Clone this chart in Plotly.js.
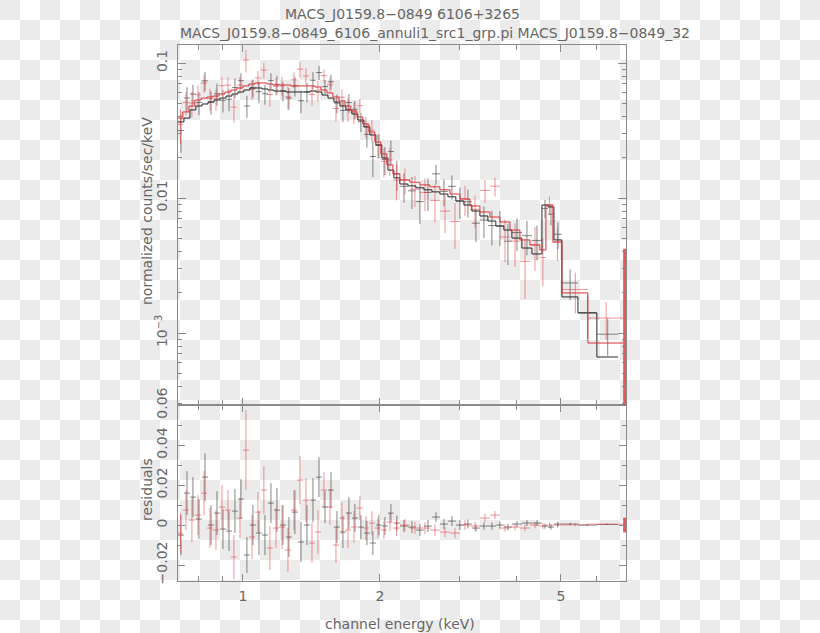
<!DOCTYPE html>
<html><head><meta charset="utf-8">
<script src="https://cdn.plot.ly/plotly-3.0.1.min.js"></script>
<style>
html,body{margin:0;padding:0;}
body{width:820px;height:633px;overflow:hidden;background:repeating-conic-gradient(#ffffff 0 25%, #ebebeb 0 50%) 0 0/40px 40px;}
#chart{width:820px;height:633px;}
</style></head><body><div id="chart"></div>
<script>
// ---- data group 1 (black) ----
const edgesBlack = [0.720,0.742,0.765,0.788,0.813,0.838,0.864,0.890,0.918,0.946,0.975,1.005,1.036,1.068,1.101,1.135,1.170,1.206,1.243,1.281,1.321,1.362,1.404,1.447,1.492,1.538,1.585,1.634,1.684,1.736,1.789,1.845,1.901,1.960,2.020,2.083,2.147,2.213,2.305,2.400,2.499,2.603,2.710,2.822,2.938,3.060,3.186,3.318,3.455,3.597,3.746,3.901,4.103,4.317,4.542,4.682,4.826,5.025,5.450,5.998,6.673];
const rateBlack = [0.0316,0.0551,0.0589,0.0510,0.0737,0.0514,0.0592,0.0530,0.0539,0.0659,0.0740,0.0481,0.0653,0.0613,0.0592,0.0741,0.0695,0.0620,0.0550,0.0675,0.0525,0.0610,0.0745,0.0850,0.0669,0.0725,0.0504,0.0445,0.0509,0.0454,0.0368,0.0296,0.0203,0.0247,0.0193,0.0221,0.0151,0.0122,0.0113,0.0094,0.0110,0.0151,0.0112,0.0122,0.0095,0.00937,0.00651,0.00686,0.00625,0.00620,0.00479,0.00555,0.00526,0.00485,0.00837,0.00758,0.00539,0.00235,0.00141,0.00098];
const errBlack = [0.010,0.011,0.010,0.010,0.012,0.010,0.011,0.010,0.010,0.011,0.010,0.009,0.010,0.011,0.010,0.010,0.011,0.010,0.010,0.011,0.010,0.010,0.011,0.010,0.008,0.009,0.008,0.008,0.008,0.007,0.006,0.006,0.006,0.005,0.0045,0.0045,0.0038,0.003,0.003,0.003,0.003,0.0025,0.0025,0.0025,0.0025,0.0022,0.0018,0.0018,0.0018,0.0018,0.0016,0.0015,0.0015,0.0014,0.0013,0.0013,0.0012,0.0006,0.0005,0.0003];
const modelBlack = [0.0366,0.0391,0.0449,0.0480,0.0497,0.0514,0.0532,0.0550,0.0569,0.0589,0.0610,0.0631,0.0653,0.0653,0.0642,0.0631,0.0620,0.0620,0.0610,0.0610,0.0610,0.0610,0.0620,0.0610,0.0579,0.0550,0.0514,0.0480,0.0449,0.0419,0.0378,0.0336,0.0293,0.0247,0.0198,0.0161,0.0141,0.0127,0.0123,0.0119,0.0115,0.0111,0.0107,0.0102,0.0095,0.00887,0.00801,0.00736,0.00675,0.00620,0.00579,0.00505,0.00426,0.00385,0.00887,0.00858,0.00489,0.00185,0.00141,0.000664];
const residBlack = [-0.005,0.016,0.014,0.003,0.024,0.0,0.006,-0.002,-0.003,0.007,0.013,-0.015,0.0,-0.004,-0.005,0.011,0.0075,0.0,-0.006,0.0065,-0.0085,0.0,0.0125,0.024,0.009,0.0175,-0.001,-0.0035,0.006,0.0035,-0.001,-0.004,-0.009,0.0,-0.0005,0.006,0.001,-0.0005,-0.001,-0.0025,-0.0005,0.004,0.0005,0.002,0.0,0.0005,-0.0015,-0.0005,-0.0005,0.0,-0.001,0.0005,0.001,0.001,-0.0005,-0.001,0.0005,0.0005,0.0,0.0003];

// ---- data group 2 (red) ----
const edgesRed = [0.720,0.738,0.761,0.784,0.809,0.834,0.859,0.886,0.913,0.941,0.970,1.000,1.031,1.063,1.095,1.129,1.164,1.200,1.237,1.275,1.314,1.355,1.397,1.440,1.484,1.530,1.577,1.626,1.676,1.727,1.781,1.835,1.892,1.950,2.010,2.072,2.136,2.213,2.328,2.449,2.576,2.710,2.851,2.999,3.155,3.318,3.491,3.672,3.863,4.063,4.274,4.495,4.634,4.801,5.025,5.731,6.841];
const rateRed = [0.0351,0.0509,0.0505,0.0582,0.0710,0.0545,0.0544,0.0679,0.0685,0.0471,0.0688,0.1051,0.0639,0.0776,0.0886,0.0584,0.0672,0.0677,0.0562,0.0751,0.0901,0.0801,0.0586,0.0629,0.0806,0.0690,0.0460,0.0558,0.0455,0.0431,0.0483,0.0338,0.0318,0.0245,0.0187,0.0191,0.0136,0.0136,0.0116,0.0110,0.0096,0.0080,0.0067,0.00983,0.00823,0.01138,0.01223,0.00514,0.00479,0.00339,0.00449,0.00362,0.00887,0.00472,0.0021,0.00129];
const errRed = [0.010,0.010,0.011,0.010,0.011,0.010,0.010,0.011,0.010,0.011,0.010,0.020,0.011,0.010,0.012,0.011,0.010,0.011,0.011,0.010,0.012,0.011,0.010,0.011,0.009,0.009,0.009,0.008,0.009,0.008,0.006,0.006,0.006,0.005,0.0045,0.0045,0.004,0.003,0.003,0.003,0.003,0.0025,0.0025,0.0025,0.0022,0.0022,0.002,0.0018,0.0017,0.0016,0.0016,0.0014,0.0014,0.0013,0.0007,0.0004];
const modelRed = [0.0391,0.0434,0.0480,0.0532,0.0550,0.0560,0.0569,0.0589,0.0610,0.0631,0.0653,0.0676,0.0699,0.0711,0.0711,0.0699,0.0687,0.0687,0.0687,0.0676,0.0676,0.0676,0.0676,0.0664,0.0631,0.0600,0.0560,0.0523,0.0480,0.0441,0.0398,0.0353,0.0308,0.0260,0.0212,0.0176,0.0151,0.0136,0.0131,0.0125,0.0121,0.0115,0.0107,0.00983,0.00873,0.00788,0.00723,0.00664,0.00579,0.00489,0.00449,0.00412,0.00887,0.00472,0.00198,0.000843];
const residRed = [-0.004,0.0075,0.0025,0.005,0.016,-0.0015,-0.0025,0.009,0.0075,-0.016,0.0035,0.0375,-0.006,0.0065,0.0175,-0.0115,-0.0015,-0.001,-0.0125,0.0075,0.0225,0.0125,-0.009,-0.0035,0.0175,0.009,-0.010,0.0035,-0.0025,-0.001,0.0085,-0.0015,0.001,-0.0015,-0.0025,0.0015,-0.0015,0.0,-0.0015,-0.0015,-0.0025,-0.0035,-0.004,0.0,-0.0005,0.0035,0.005,-0.0015,-0.001,-0.0015,0.0,-0.0005,0.0,0.0,0.0001,0.00045];

// last, very narrow red channel at the top of the band
const tailRedEdges = [6.860, 6.945];
const tailRedRate = [0.0005];
const tailRedErr = [0.0037];
const tailRedResid = [0.0];

// ---- axis ticks ----
const xTickVals = [1, 2, 5];
const xTickText = ['1', '2', '5'];
const xMinorVals = [0.8, 0.9, 3, 4, 6, 7];
const yTickVals = [0.001, 0.01, 0.1];
const yTickText = ['10<sup>−3</sup>', '0.01', '0.1'];
const rTickVals = [-0.02, 0, 0.02, 0.04, 0.06];
const rTickText = ['−0.02', '0', '0.02', '0.04', '0.06'];
const rMinorVals = [-0.01, 0.01, 0.03, 0.05];

function mids(e){ const c=[]; for(let i=0;i<e.length-1;i++) c.push((e[i]+e[i+1])/2); return c; }
function halfs(e){ const h=[]; for(let i=0;i<e.length-1;i++) h.push((e[i+1]-e[i])/2); return h; }
function stepY(m){ return m.concat([m[m.length-1]]); }

const yMinor = [];
[1e-4,1e-3,1e-2,1e-1].forEach(d=>{ for(let k=2;k<=9;k++) yMinor.push(+(k*d).toPrecision(3)); });

const BLK_D = 'rgba(60,60,60,0.62)';
const RED_D = 'rgba(232,60,64,0.55)';
const BLK_M = '#262626';
const RED_M = '#de3036';

function dataTrace(edges, y, err, color, xa, ya, thick){
  return {type:'scatter', mode:'markers', x:mids(edges), y:y, xaxis:xa, yaxis:ya,
    marker:{size:1, color:'rgba(0,0,0,0)'},
    error_x:{type:'data', array:halfs(edges), symmetric:true, color:color, thickness:1, width:0},
    error_y:{type:'data', array:err, symmetric:true, color:color, thickness:thick||1, width:0},
    hoverinfo:'skip', showlegend:false};
}
function modelTrace(edges, m, color){
  return {type:'scatter', mode:'lines', x:edges, y:stepY(m), xaxis:'x2', yaxis:'y',
    line:{shape:'hv', color:color, width:1}, hoverinfo:'skip', showlegend:false};
}

const traces = [
  dataTrace(edgesBlack, rateBlack, errBlack, BLK_D, 'x2', 'y'),
  dataTrace(edgesRed, rateRed, errRed, RED_D, 'x2', 'y'),
  dataTrace(tailRedEdges, tailRedRate, tailRedErr, 'rgba(232,60,64,0.85)', 'x2', 'y', 3),
  modelTrace(edgesBlack, modelBlack, BLK_M),
  modelTrace(edgesRed, modelRed, RED_M),
  dataTrace(edgesBlack, residBlack, errBlack, BLK_D, 'x', 'y2'),
  dataTrace(edgesRed, residRed, errRed, RED_D, 'x', 'y2'),
  dataTrace(tailRedEdges, tailRedResid, tailRedErr, 'rgba(232,60,64,0.85)', 'x', 'y2', 3)
];

const F = {family:'DejaVu Sans, sans-serif', size:14, color:'#666'};
const AX = '#8a8a8a';
const split = (581-405)/(581-45);

const layout = {
  width:820, height:633,
  margin:{l:178, r:194, t:45, b:52},
  paper_bgcolor:'rgba(0,0,0,0)', plot_bgcolor:'rgba(0,0,0,0)',
  showlegend:false, hovermode:false,
  font:F,
  xaxis:{type:'log', anchor:'y2', range:[Math.log10(0.72), Math.log10(6.95)],
    tickmode:'array', tickvals:xTickVals, ticktext:xTickText,
    ticks:'inside', ticklen:7, tickcolor:AX, showline:true, linecolor:AX, linewidth:1, mirror:'ticks',
    showgrid:false, zeroline:false, tickfont:F, ticklabelstandoff:2,
    minor:{tickmode:'array', tickvals:xMinorVals, ticks:'inside', ticklen:5, tickcolor:AX, showgrid:false}},
  xaxis2:{type:'log', anchor:'y', matches:'x', range:[Math.log10(0.72), Math.log10(6.95)],
    tickmode:'array', tickvals:xTickVals, showticklabels:false,
    ticks:'inside', ticklen:7, tickcolor:AX, showline:true, linecolor:AX, linewidth:1, mirror:'ticks',
    showgrid:false, zeroline:false,
    minor:{tickmode:'array', tickvals:xMinorVals, ticks:'inside', ticklen:5, tickcolor:AX, showgrid:false}},
  yaxis:{type:'log', anchor:'x2', domain:[split,1], range:[-3.5333,-0.8667],
    tickmode:'array', tickvals:yTickVals, ticktext:yTickText, tickangle:-90,
    ticks:'inside', ticklen:8, tickcolor:AX, showline:true, linecolor:AX, linewidth:1, mirror:'ticks',
    showgrid:false, zeroline:false, tickfont:F, ticklabelstandoff:4,
    minor:{tickmode:'array', tickvals:yMinor, ticks:'inside', ticklen:4, tickcolor:AX, showgrid:false}},
  yaxis2:{anchor:'x', domain:[0,split], range:[-0.028,0.0601],
    tickmode:'array', tickvals:rTickVals, ticktext:rTickText, tickangle:-90,
    ticks:'inside', ticklen:7, tickcolor:AX, showline:true, linecolor:AX, linewidth:1, mirror:'ticks',
    showgrid:false, zeroline:false, tickfont:F, ticklabelstandoff:4,
    minor:{tickmode:'array', tickvals:rMinorVals, ticks:'inside', ticklen:4, tickcolor:AX, showgrid:false}},
  annotations:[
    {text:'MACS_J0159.8−0849 6106+3265', xref:'paper', yref:'paper', x:0.5, y:(581-14)/536, xanchor:'center', yanchor:'middle', showarrow:false, font:F},
    {text:'MACS_J0159.8−0849_6106_annuli1_src1_grp.pi MACS_J0159.8−0849_32', xref:'paper', yref:'paper', x:0, y:(581-33)/536, xanchor:'left', yanchor:'middle', showarrow:false, font:F},
    {text:'normalized counts/sec/keV', xref:'paper', yref:'paper', x:(147-178)/448, y:(581-211)/536, xanchor:'center', yanchor:'middle', textangle:-90, showarrow:false, font:F},
    {text:'residuals', xref:'paper', yref:'paper', x:(147-178)/448, y:(581-490)/536, xanchor:'center', yanchor:'middle', textangle:-90, showarrow:false, font:F},
    {text:'channel energy (keV)', xref:'paper', yref:'paper', x:(400-178)/448, y:(581-624)/536, xanchor:'center', yanchor:'middle', showarrow:false, font:F}
  ]
};

Plotly.newPlot('chart', traces, layout, {staticPlot:true, displayModeBar:false});
</script>
</body></html>
